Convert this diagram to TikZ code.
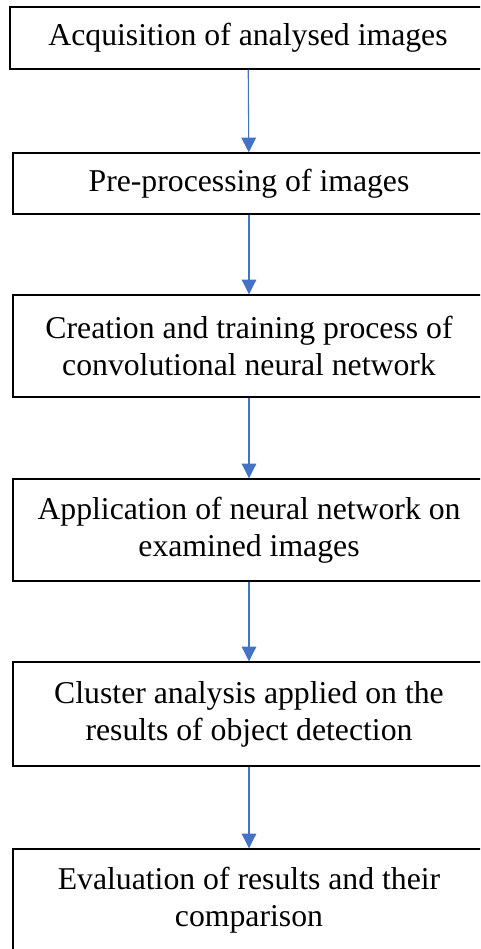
\documentclass[tikz,border=0pt]{standalone}
\usepackage{fontspec}
\setmainfont{Liberation Serif}
\usetikzlibrary{arrows.meta}
\definecolor{flowblue}{HTML}{4472C4}
\tikzset{
  stage/.style={draw=black, line width=1.1pt, align=center, inner sep=0pt,
    minimum width=354pt, font=\fontsize{23.8}{27.7}\selectfont},
  flow/.style={draw=flowblue, line width=0.8pt, -{Triangle[width=11pt,length=11pt]}}
}
\begin{document}
\begin{tikzpicture}[x=0.75pt, y=-0.75pt]
    \useasboundingbox (0,0) rectangle (480,949);
    \clip (0,0) rectangle (480,949);

    % Stages
    \node[stage, minimum width=357pt, minimum height=46.5pt] (acq) at (248,38) {Acquisition of analysed images};
    \node[stage, minimum height=45.75pt] (pre) at (249,183.5) {Pre-processing of images};
    \node[stage, minimum height=76.5pt] (cnn) at (249,346) {Creation and training process of\\convolutional neural network};
    \node[stage, minimum height=76.5pt] (app) at (249,530) {Application of neural network on\\examined images};
    \node[stage, minimum height=78pt] (clu) at (249,714) {Cluster analysis applied on the\\results of object detection};
    \node[stage, minimum height=76.5pt] (eva) at (249,900) {Evaluation of results and their\\comparison};

    % Arrows
    \draw[flow] (acq) -- (pre);
    \draw[flow] (pre) -- (cnn);
    \draw[flow] (cnn) -- (app);
    \draw[flow] (app) -- (clu);
    \draw[flow] (clu) -- (eva);
\end{tikzpicture}
\end{document}
